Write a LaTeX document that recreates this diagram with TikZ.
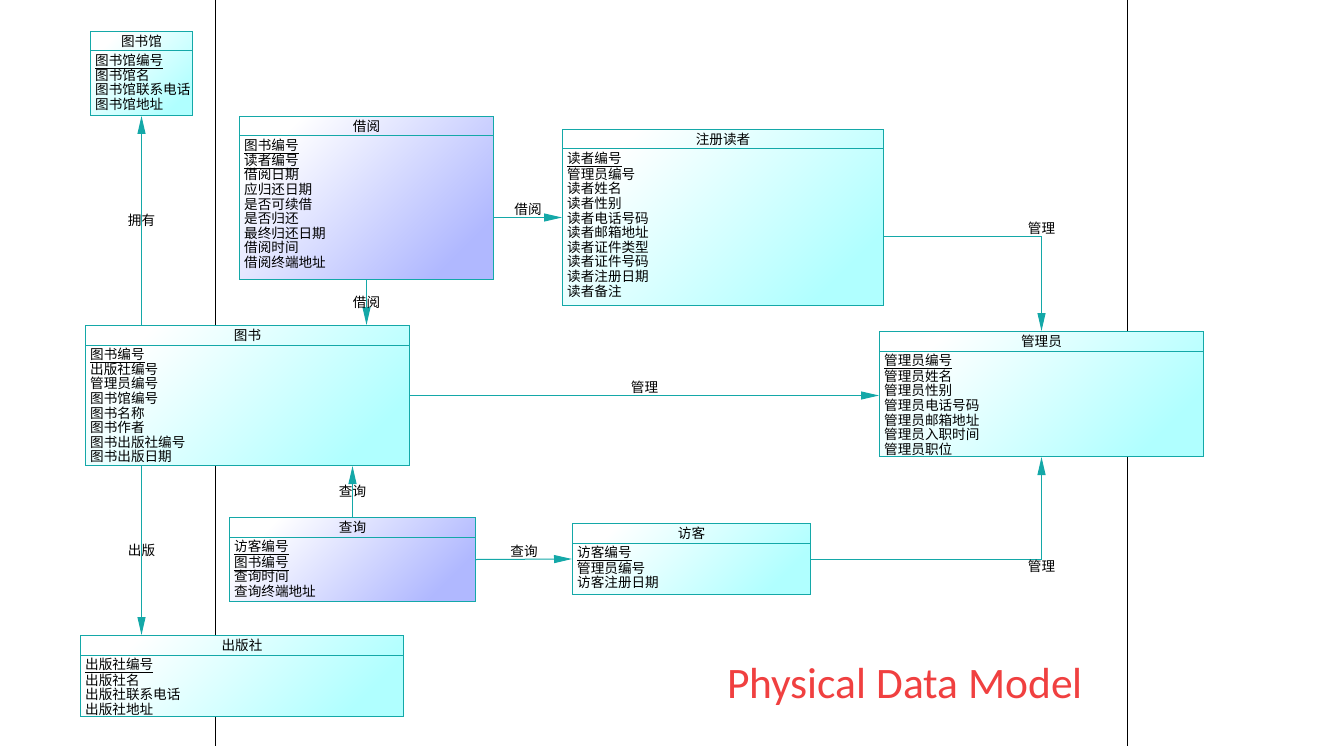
\documentclass[tikz,border=0pt]{standalone}
\usepackage{fontspec}
\setmainfont{Noto Sans CJK SC}
\newfontfamily\latinfont{Carlito}
\usepackage{tikz}
\usetikzlibrary{arrows.meta,calc}

\definecolor{tblborder}{RGB}{20,168,168}
\definecolor{cyanend}{RGB}{176,255,255}
\definecolor{lilacend}{RGB}{176,184,255}
\definecolor{titlered}{RGB}{240,64,64}

\tikzset{
  tbl/.style={draw=tblborder, line width=1pt, inner sep=0pt,
    top color=white, bottom color=#1, shading angle=45},
  attr/.style={anchor=north west, align=left, inner sep=0pt,
    font=\fontsize{13.6}{14.6}\selectfont},
  hd/.style={inner sep=0pt, font=\fontsize{13.6}{14.6}\selectfont},
  link/.style={draw=tblborder, line width=1pt, -{Triangle[length=18pt,width=8pt]}},
  lbl/.style={inner sep=1pt, font=\fontsize{13.6}{14.6}\selectfont},
  sepline/.style={draw=black, line width=1pt}
}

% one table: name, fill colour, top-left corner, width, height, title, columns
\newcommand{\entity}[7]{%
  \node[tbl=#2, minimum width=#4, minimum height=#5, anchor=north west] (#1) at #3 {};
  \node[hd] (#1-t) at ($(#1.north)+(0,10)$) {#6};
  \draw[tblborder, line width=1pt] ($(#1.north west)+(0,20)$) -- ($(#1.north east)+(0,20)$);
  \node[attr] (#1-a) at ($(#1.north west)+(5,23)$) {#7};
}

\begin{document}
\begin{tikzpicture}[x=1pt, y=-1pt]
  \useasboundingbox (0,0) rectangle (1335,746);
  \fill[white] (0,0) rectangle (1335,746);

  % swimlane separators
  \coordinate (sepA-top) at (215,0);
  \coordinate (sepA-bot) at (215,746);
  \coordinate (sepB-top) at (1127,0);
  \coordinate (sepB-bot) at (1127,746);
  \draw[sepline] (sepA-top) -- (sepA-bot);
  \draw[sepline] (sepB-top) -- (sepB-bot);

  % tables
  \entity{tsg}{cyanend}{(90,31)}{102}{84}{图书馆}{\underline{图书馆编号}\\图书馆名\\图书馆联系电话\\图书馆地址}
  \entity{jy}{lilacend}{(239,116)}{254}{163}{借阅}{\underline{图书编号}\\\underline{读者编号}\\借阅日期\\应归还日期\\是否可续借\\是否归还\\最终归还日期\\借阅时间\\借阅终端地址}
  \entity{dz}{cyanend}{(562,129)}{321}{176}{注册读者}{\underline{读者编号}\\管理员编号\\读者姓名\\读者性别\\读者电话号码\\读者邮箱地址\\读者证件类型\\读者证件号码\\读者注册日期\\读者备注}
  \entity{ts}{cyanend}{(85,325)}{324}{140}{图书}{\underline{图书编号}\\出版社编号\\管理员编号\\图书馆编号\\图书名称\\图书作者\\图书出版社编号\\图书出版日期}
  \entity{gly}{cyanend}{(879,331)}{324}{125}{管理员}{\underline{管理员编号}\\管理员姓名\\管理员性别\\管理员电话号码\\管理员邮箱地址\\管理员入职时间\\管理员职位}
  \entity{cx}{lilacend}{(229,517)}{246}{84}{查询}{\underline{访客编号}\\\underline{图书编号}\\查询时间\\查询终端地址}
  \entity{fk}{cyanend}{(572,523)}{238}{71}{访客}{\underline{访客编号}\\管理员编号\\访客注册日期}
  \entity{cbs}{cyanend}{(80,635)}{323}{81}{出版社}{\underline{出版社编号}\\出版社名\\出版社联系电话\\出版社地址}

  % references
  \draw[link] (tsg.south |- ts.north) -- (tsg.south) node[midway, lbl] {拥有};
  \draw[link] (jy.south) -- (jy.south |- ts.north) node[midway, lbl] {借阅};
  \draw[link] (jy.east |- dz.west) -- (dz.west) node[midway, lbl, above] {借阅};
  \draw[link] ($(dz.east)+(0,19)$) -| (gly.north) node[pos=0.5, lbl, above] {管理};
  \draw[link] (ts.east) -- (ts.east -| gly.west) node[midway, lbl, above] {管理};
  \draw[link] (cx.north) -- (cx.north |- ts.south) node[midway, lbl] {查询};
  \draw[link] (cx.east) -- (fk.west) node[midway, lbl, above] {查询};
  \draw[link] (fk.east) -| (gly.south) node[pos=0.5, lbl, below] {管理};
  \draw[link] (tsg.south |- ts.south) -- (tsg.south |- cbs.north) node[midway, lbl] {出版};

  \node[font=\latinfont\fontsize{43.5}{43.5}\selectfont, text=titlered] (pdm) at (905,687) {Physical Data Model};
\end{tikzpicture}
\end{document}
